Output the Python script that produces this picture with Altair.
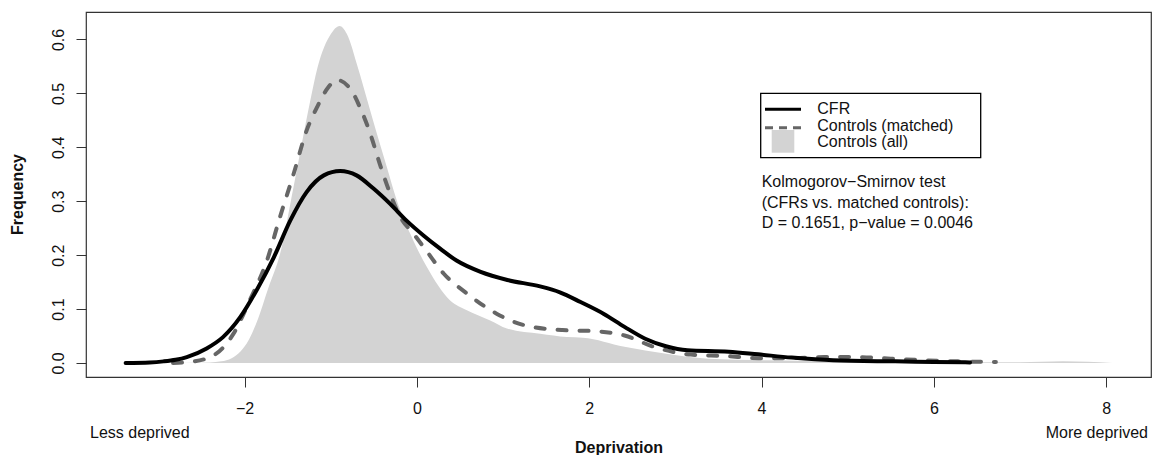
import altair as alt
import pandas as pd

# ---- data ----
cfr_x = [-3.38, -3.1, -2.94, -2.8, -2.67, -2.44, -2.25, -2.05, -1.86, -1.66, -1.47, -1.28,
         -1.08, -0.89, -0.70, -0.50, -0.31, -0.12, 0.08, 0.27, 0.46, 0.74, 1.05, 1.43, 1.66,
         1.90, 2.17, 2.41, 2.65, 2.89, 3.14, 3.62, 3.96, 4.35, 4.83, 5.55, 6.0, 6.42]
cfr_y = [0.0, 0.001, 0.003, 0.006, 0.011, 0.027, 0.048, 0.085, 0.135, 0.196, 0.264, 0.317,
         0.348, 0.356, 0.348, 0.323, 0.295, 0.264, 0.236, 0.212, 0.190, 0.169, 0.154, 0.142, 0.131,
         0.113, 0.091, 0.067, 0.045, 0.031, 0.0235, 0.021, 0.016, 0.010, 0.005, 0.003, 0.002, 0.001]

matched_x = [-2.83, -2.63, -2.36, -2.13, -1.94, -1.74, -1.59, -1.43, -1.28, -1.16, -1.03, -0.93,
             -0.77, -0.66, -0.54, -0.43, -0.31, -0.19, -0.04, 0.12, 0.31, 0.58, 0.93, 1.25, 1.69,
             2.07, 2.41, 2.75, 3.18, 3.57, 3.96, 4.35, 4.73, 5.07, 5.5, 5.89, 6.28, 6.72]
matched_y = [0.0, 0.002, 0.014, 0.054, 0.116, 0.19, 0.27, 0.351, 0.431, 0.474, 0.511, 0.525,
             0.508, 0.474, 0.425, 0.369, 0.314, 0.270, 0.240, 0.206, 0.166, 0.129, 0.091, 0.070, 0.061,
             0.059, 0.051, 0.030, 0.0155, 0.013, 0.009, 0.009, 0.011, 0.011, 0.008, 0.005, 0.003, 0.002]

all_x = [-2.9, -2.6, -2.4, -2.27, -2.15, -2.05, -1.95, -1.86, -1.72, -1.587, -1.432, -1.238,
         -1.153, -0.998, -0.898, -0.812, -0.685, -0.573, -0.464, -0.348, -0.232, -0.078, 0.116,
         0.386, 0.58, 0.851, 1.045, 1.431, 1.741, 1.927, 2.41, 2.894, 3.377, 4.1, 5.0, 6.0,
         7.0, 7.5, 8.07]
all_y = [0.0, 0.0005, 0.001, 0.003, 0.009, 0.021, 0.043, 0.075, 0.141, 0.203, 0.326, 0.486,
         0.548, 0.610, 0.625, 0.610, 0.548, 0.486, 0.425, 0.363, 0.301, 0.240, 0.178,
         0.116, 0.098, 0.079, 0.064, 0.054, 0.048, 0.047, 0.030, 0.017, 0.008, 0.005, 0.003, 0.002,
         0.0015, 0.003, 0.0]

x_ticks = [-2, 0, 2, 4, 6, 8]
y_ticks = [0.0, 0.1, 0.2, 0.3, 0.4, 0.5, 0.6]
series_names = ["CFR", "Controls (matched)", "Controls (all)"]
ks_lines = ["Kolmogorov\u2212Smirnov test",
            "(CFRs vs. matched controls):",
            "D = 0.1651, p\u2212value = 0.0046"]
x_title = "Deprivation"
y_title = "Frequency"
left_note = "Less deprived"
right_note = "More deprived"

FONT = "Liberation Sans"
INK = "#111111"

df_cfr = pd.DataFrame({"x": cfr_x, "y": cfr_y})
df_matched = pd.DataFrame({"x": matched_x, "y": matched_y})
df_all = pd.DataFrame({"x": all_x, "y": all_y})
one = pd.DataFrame({"k": [0]})

xscale = alt.Scale(domain=[-3.84, 8.52], nice=False, zero=False)
yscale = alt.Scale(domain=[-0.026, 0.651], nice=False, zero=False)

xaxis = alt.Axis(values=x_ticks, format="d", title=x_title, domain=False, grid=False,
                 tickSize=10, tickColor="#333333", tickWidth=1,
                 labelFont=FONT, labelFontSize=16, labelColor=INK,
                 labelBaseline="alphabetic", labelPadding=26, labelFlush=False,
                 titleFont=FONT, titleFontSize=16, titleFontWeight="bold", titleColor=INK,
                 titleY=70, titleBaseline="middle")
yaxis = alt.Axis(values=y_ticks, format=".1f", title=y_title, domain=False, grid=False,
                 tickSize=10, tickColor="#333333", tickWidth=1,
                 labelFont=FONT, labelFontSize=16, labelColor=INK,
                 labelAngle=270, labelAlign="center", labelBaseline="alphabetic",
                 labelPadding=13, labelFlush=False,
                 titleFont=FONT, titleFontSize=16, titleFontWeight="bold", titleColor=INK,
                 titleAngle=270, titleX=-69, titleY=182, titleBaseline="middle",
                 titleAlign="center")

area = alt.Chart(df_all).mark_area(color="#d3d3d3", interpolate="monotone").encode(
    x=alt.X("x:Q", scale=xscale, axis=xaxis),
    y=alt.Y("y:Q", scale=yscale, axis=yaxis),
    y2=alt.datum(0),
)

matched = alt.Chart(df_matched).mark_line(
    color="#666666", strokeWidth=4, strokeDash=[9, 13], strokeCap="round",
    interpolate="monotone").encode(
    x=alt.X("x:Q", scale=xscale), y=alt.Y("y:Q", scale=yscale))

cfr = alt.Chart(df_cfr).mark_line(
    color="black", strokeWidth=4, strokeCap="round", interpolate="monotone").encode(
    x=alt.X("x:Q", scale=xscale), y=alt.Y("y:Q", scale=yscale))

# ---- legend (drawn as annotation marks) ----
legend_box = alt.Chart(one).mark_rect(fill="white", stroke="black", strokeWidth=1.3).encode(
    x=alt.value(674.7), x2=alt.value(894.7), y=alt.value(81.3), y2=alt.value(145.7))
leg_solid = alt.Chart(one).mark_rule(color="black", strokeWidth=3).encode(
    x=alt.value(679), x2=alt.value(715), y=alt.value(97.3))
leg_dash = alt.Chart(one).mark_rule(color="#666666", strokeWidth=3, strokeDash=[8, 6]).encode(
    x=alt.value(679), x2=alt.value(715), y=alt.value(115.7))
leg_square = alt.Chart(one).mark_rect(fill="#d3d3d3").encode(
    x=alt.value(685.7), x2=alt.value(708.3), y=alt.value(118), y2=alt.value(140.7))

texts = []
for name, yy in zip(series_names, [97.3, 114.0, 129.7]):
    texts.append(alt.Chart(one).mark_text(
        align="left", baseline="middle", font=FONT, fontSize=16, color=INK).encode(
        x=alt.value(731.3), y=alt.value(yy), text=alt.value(name)))

for line, yy in zip(ks_lines, [170.0, 190.5, 211.0]):
    texts.append(alt.Chart(one).mark_text(
        align="left", baseline="middle", font=FONT, fontSize=16, color=INK).encode(
        x=alt.value(675.7), y=alt.value(yy), text=alt.value(line)))

texts.append(alt.Chart(one).mark_text(
    align="left", baseline="middle", font=FONT, fontSize=16, color=INK).encode(
    x=alt.value(4), y=alt.value(421), text=alt.value(left_note)))
texts.append(alt.Chart(one).mark_text(
    align="right", baseline="middle", font=FONT, fontSize=16, color=INK).encode(
    x=alt.value(1062), y=alt.value(421), text=alt.value(right_note)))

chart = alt.layer(area, matched, cfr, legend_box, leg_solid, leg_dash, leg_square, *texts).properties(
    width=1065, height=365,
    autosize=alt.AutoSizeParams(type="none"),
    padding={"left": 86, "top": 12, "right": 2, "bottom": 78},
    background="white",
).configure_view(stroke="#333333", strokeWidth=1.2)

chart.save("out.html", embed_options={"renderer": "svg", "actions": False})
